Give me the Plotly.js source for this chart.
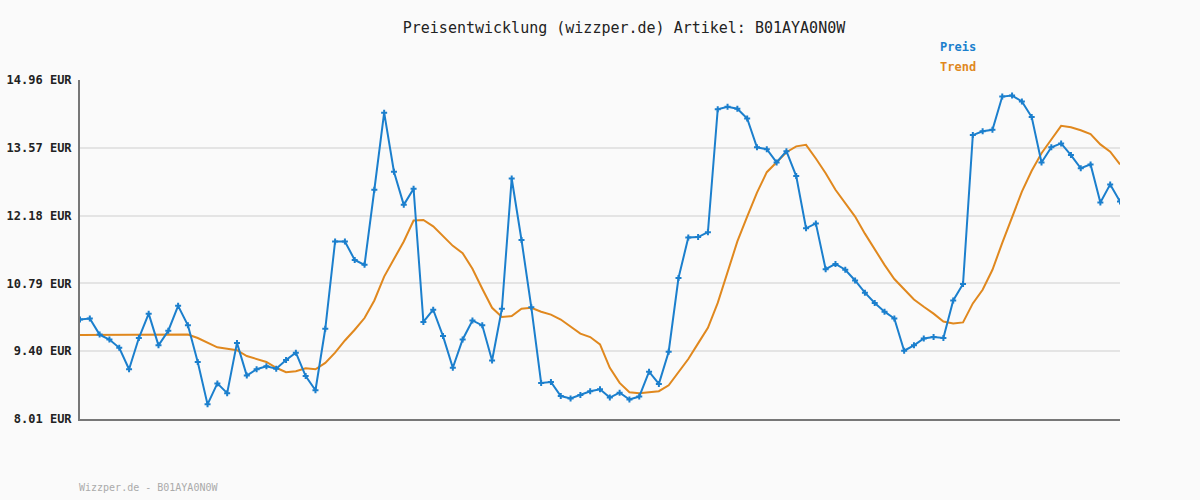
<!DOCTYPE html>
<html>
<head>
<meta charset="utf-8">
<script src="https://cdn.plot.ly/plotly-3.0.1.min.js"></script>
<style>
  html, body { margin: 0; padding: 0; background: #fafafa; }
  #chart { width: 1200px; height: 500px; }
</style>
</head>
<body>
<div id="chart"></div>
<script>
// Price series (EUR), one value per sample
const preis = [
  10.05, 10.07, 9.74, 9.64, 9.47, 9.03, 9.67, 10.17, 9.52, 9.82,
  10.33, 9.93, 9.18, 8.31, 8.74, 8.54, 9.57, 8.90, 9.03, 9.09,
  9.04, 9.22, 9.37, 8.89, 8.60, 9.86, 11.65, 11.65, 11.27, 11.17,
  12.71, 14.29, 13.08, 12.40, 12.73, 10.00, 10.25, 9.71, 9.06, 9.64,
  10.03, 9.93, 9.21, 10.27, 12.94, 11.68, 10.30, 8.75, 8.77, 8.48,
  8.43, 8.50, 8.58, 8.62, 8.45, 8.55, 8.41, 8.47, 8.98, 8.73,
  9.39, 10.90, 11.73, 11.74, 11.84, 14.36, 14.41, 14.37, 14.17, 13.58,
  13.54, 13.27, 13.50, 12.99, 11.92, 12.02, 11.08, 11.19, 11.07, 10.85,
  10.60, 10.39, 10.21, 10.07, 9.41, 9.52, 9.66, 9.69, 9.67, 10.44,
  10.78, 13.83, 13.91, 13.94, 14.62, 14.64, 14.52, 14.20, 13.27, 13.58,
  13.66, 13.42, 13.15, 13.23, 12.45, 12.82, 12.47
];

// Trend series (EUR)
const trend = [
  9.73, 9.73, 9.73, 9.73, 9.73, 9.73, 9.73, 9.73, 9.73, 9.73,
  9.74, 9.74, 9.67, 9.57, 9.48, 9.45, 9.42, 9.30, 9.24, 9.18,
  9.06, 8.97, 8.99, 9.05, 9.03, 9.16, 9.37, 9.62, 9.84, 10.08,
  10.44, 10.93, 11.29, 11.65, 12.08, 12.09, 11.96, 11.77, 11.56, 11.41,
  11.09, 10.68, 10.29, 10.10, 10.12, 10.27, 10.29, 10.21, 10.15, 10.05,
  9.91, 9.76, 9.69, 9.54, 9.06, 8.75, 8.56, 8.54, 8.56, 8.58,
  8.70, 8.96, 9.24, 9.56, 9.88, 10.39, 11.01, 11.65, 12.16, 12.65,
  13.07, 13.28, 13.48, 13.60, 13.63, 13.35, 13.05, 12.71, 12.43, 12.16,
  11.81, 11.48, 11.17, 10.88, 10.66, 10.46, 10.31, 10.17, 10.01, 9.97,
  9.99, 10.38, 10.66, 11.07, 11.62, 12.16, 12.67, 13.10, 13.46, 13.74,
  14.02, 13.99, 13.93, 13.85, 13.64, 13.49, 13.23
];

// Y-axis ticks
const yTicks = [8.01, 9.40, 10.79, 12.18, 13.57, 14.96];
const yTickLabels = ["8.01 EUR", "9.40 EUR", "10.79 EUR", "12.18 EUR", "13.57 EUR", "14.96 EUR"];

const seriesNames = ["Preis", "Trend"];
const titleText = "Preisentwicklung (wizzper.de) Artikel: B01AYA0N0W";
const footerText = "Wizzper.de - B01AYA0N0W";

const xs = preis.map((_, i) => i);
const BLUE = "#1b7fcd";
const ORANGE = "#e0881e";
const MONO = "'DejaVu Sans Mono', 'Liberation Mono', monospace";

const traces = [
  {
    x: xs, y: trend, type: "scatter", mode: "lines", name: seriesNames[1],
    line: { color: ORANGE, width: 2 }, hoverinfo: "skip"
  },
  {
    x: xs, y: preis, type: "scatter", mode: "lines+markers", name: seriesNames[0],
    line: { color: BLUE, width: 2 },
    marker: { symbol: "cross", size: 5, color: BLUE }
  }
];

const layout = {
  width: 1200, height: 500,
  paper_bgcolor: "#fafafa", plot_bgcolor: "#fafafa",
  margin: { l: 80, r: 80, t: 80, b: 81 },
  showlegend: false,
  title: {
    text: titleText, x: 0.52, xanchor: "center", y: 0.944, yanchor: "middle",
    font: { family: MONO, size: 15, color: "#222" }
  },
  xaxis: {
    range: [0, preis.length - 1], showgrid: false, zeroline: false,
    showticklabels: false, ticks: "", showline: true, linecolor: "#777", linewidth: 2,
    fixedrange: true
  },
  yaxis: {
    range: [yTicks[0], yTicks[yTicks.length - 1]],
    tickmode: "array", tickvals: yTicks, ticktext: yTickLabels,
    showgrid: true, gridcolor: "#e4e4e4", gridwidth: 2, zeroline: false,
    showline: true, linecolor: "#777", linewidth: 2, ticks: "",
    tickfont: { family: MONO, size: 12, color: "#222", weight: "bold" },
    ticklabelstandoff: 4, fixedrange: true
  },
  annotations: [
    { text: "<b>" + seriesNames[0] + "</b>", xref: "paper", yref: "paper",
      x: 938 / 1200, y: 1 - 47 / 500, xanchor: "left", yanchor: "middle",
      showarrow: false, font: { family: MONO, size: 12, color: BLUE } },
    { text: "<b>" + seriesNames[1] + "</b>", xref: "paper", yref: "paper",
      x: 938 / 1200, y: 1 - 67 / 500, xanchor: "left", yanchor: "middle",
      showarrow: false, font: { family: MONO, size: 12, color: ORANGE } },
    { text: footerText, xref: "paper", yref: "paper",
      x: 77 / 1200, y: 1 - 487 / 500, xanchor: "left", yanchor: "middle",
      showarrow: false, font: { family: MONO, size: 10, color: "#aaa" } }
  ]
};

// map annotation pixel positions into paper coords relative to plot area
const plotW = 1200 - layout.margin.l - layout.margin.r;
const plotH = 500 - layout.margin.t - layout.margin.b;
layout.annotations.forEach(a => {
  const px = a.x * 1200, py = (1 - a.y) * 500;
  a.x = (px - layout.margin.l) / plotW;
  a.y = 1 - (py - layout.margin.t) / plotH;
});

Plotly.newPlot("chart", traces, layout, { displayModeBar: false, staticPlot: true });
</script>
</body>
</html>
